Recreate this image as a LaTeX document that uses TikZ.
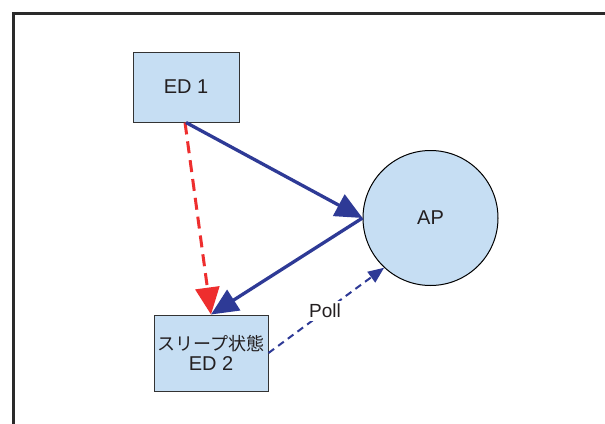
\documentclass[tikz,border=0pt]{standalone}
\usepackage{fontspec}
\setmainfont{Liberation Sans}
\newfontfamily\jpfont{Noto Sans CJK JP}
\usetikzlibrary{arrows.meta}
\definecolor{boxfill}{HTML}{C6DEF3}
\definecolor{boxline}{HTML}{333333}
\definecolor{txt}{HTML}{231F20}
\definecolor{navy}{HTML}{2E3A96}
\definecolor{redarrow}{HTML}{EE2E2E}
\definecolor{frameline}{HTML}{2A2A2A}
\tikzset{
  devbox/.style={draw=boxline, fill=boxfill, line width=1pt, inner sep=0pt, text=txt, align=center},
  apnode/.style={draw=black, fill=boxfill, circle, line width=1pt, inner sep=0pt, text=txt},
  bluearrow/.style={draw=navy, line width=3.3pt, -{Triangle[length=27pt,width=24pt]}},
  redarrowstyle/.style={draw=redarrow, line width=3pt, dash pattern=on 12pt off 7pt, -{Triangle[length=27pt,width=24pt,fill=redarrow]}},
  pollarrow/.style={draw=navy, line width=2pt, dash pattern=on 7pt off 5pt, -{Triangle[length=16pt,width=13pt]}},
  polllabel/.style={text=txt, fill=white, inner xsep=2pt, inner ysep=3pt},
}
\begin{document}
\begin{tikzpicture}[x=1pt,y=-1pt]
\useasboundingbox (0,0) rectangle (605,423);
\fill[white] (0,0) rectangle (605,423);
\draw[frameline, line width=2.6pt] (13.5,13.5) rectangle (620,440);
\node[devbox, minimum width=106pt, minimum height=70pt, font=\fontsize{20}{22}\selectfont] (ed1) at (186,87) {ED 1};
\node[devbox, minimum width=114pt, minimum height=76pt] (ed2) at (211,353)
  {{\jpfont\fontsize{18}{20}\selectfont スリープ状態}\\[3pt]{\fontsize{20}{22}\selectfont ED 2}};
\node[apnode, minimum size=135pt, font=\fontsize{20}{22}\selectfont] (ap) at (430.5,218) {AP};
\draw[redarrowstyle] ([xshift=-1pt]ed1.south) -- (ed2.north);
\draw[bluearrow] (ed1.south) -- (ap.west);
\draw[bluearrow] (ap.west) -- (ed2.north);
\draw[pollarrow] (ed2.east) -- (ap.227);
\node[polllabel, font=\fontsize{19}{22}\selectfont] (poll) at (325,311) {Poll};
\end{tikzpicture}
\end{document}
